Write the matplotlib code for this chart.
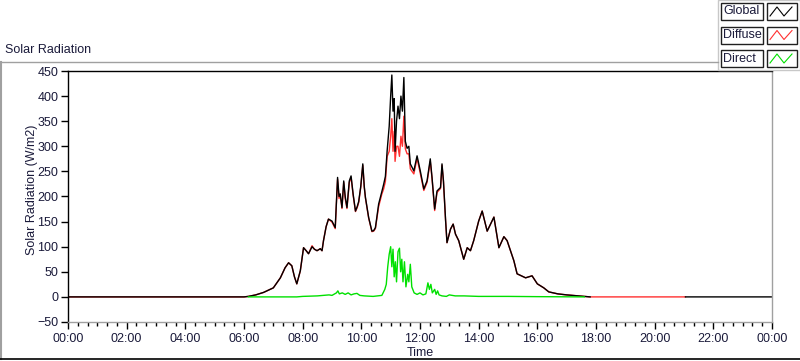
import matplotlib.pyplot as plt
from matplotlib.lines import Line2D
from matplotlib.patches import Rectangle
import numpy as np

# time of day in hours, values in W/m2
t_global = [0, 6.0, 6.15, 6.4, 6.67, 7.0, 7.24, 7.4, 7.52, 7.63, 7.72, 7.8, 7.92, 8.03, 8.12, 8.2,
            8.32, 8.4, 8.49, 8.6, 8.66, 8.71, 8.8, 8.88, 9.0, 9.11, 9.19, 9.24, 9.28, 9.34, 9.4, 9.45,
            9.51, 9.59, 9.65, 9.72, 9.8, 9.86, 9.91, 9.98, 10.05, 10.1, 10.14, 10.25, 10.36, 10.42,
            10.48, 10.59, 10.7, 10.76, 10.82, 10.88, 10.95, 11.0, 11.04, 11.08, 11.12, 11.15, 11.2,
            11.25, 11.3, 11.35, 11.4, 11.45, 11.5, 11.56, 11.62, 11.67, 11.79, 11.9, 12.01, 12.13,
            12.24, 12.35, 12.41, 12.5, 12.58, 12.7, 12.75, 12.8, 12.87, 12.92, 13.04, 13.13, 13.21,
            13.32, 13.49, 13.61, 13.72, 13.83, 14.0, 14.12, 14.29, 14.52, 14.69, 14.86, 14.97, 15.2,
            15.31, 15.6, 15.82, 16.0, 16.22, 16.39, 16.7, 17.0, 17.4, 17.8, 17.85, 21.05, 24]
global_wm2 = [0, 0, 1, 4, 9, 18, 38, 58, 68, 62, 40, 26, 52, 98, 92, 86,
              100, 95, 92, 96, 92, 112, 140, 155, 151, 138, 238, 200, 205, 178, 231, 200,
              178, 231, 241, 205, 171, 180, 190, 220, 265, 220, 198, 158, 131, 132,
              138, 185, 210, 224, 240, 291, 340, 400, 442, 370, 395, 290, 350,
              380, 355, 400, 370, 437, 310, 296, 300, 265, 251, 281, 251, 215,
              231, 275, 238, 175, 211, 218, 265, 231, 155, 108, 135, 145, 125,
              112, 75, 98, 92, 112, 151, 171, 131, 159, 98, 120, 112, 72,
              46, 38, 42, 26, 18, 10, 6, 4, 2, 0, np.nan, 0, 0]

t_diffuse = t_global[:-3] + [21.05]
diffuse_wm2 = [0, 0, 1, 4, 9, 18, 38, 58, 68, 62, 40, 26, 52, 98, 92, 86,
               102, 95, 92, 96, 92, 112, 140, 155, 149, 136, 234, 196, 205, 176, 228, 196,
               176, 228, 238, 203, 170, 178, 188, 218, 262, 218, 197, 157, 130, 131,
               136, 180, 205, 215, 230, 280, 290, 320, 355, 290, 330, 270, 300,
               300, 280, 320, 300, 360, 295, 285, 285, 255, 245, 276, 246, 212,
               228, 270, 236, 172, 208, 216, 262, 229, 154, 108, 135, 145, 125,
               112, 75, 98, 92, 112, 151, 171, 131, 159, 98, 120, 112, 72,
               46, 38, 42, 26, 18, 10, 6, 4, 2, 0, 0]

t_direct = [6.15, 7.8, 8.0, 8.5, 8.9, 9.0, 9.15, 9.2, 9.25, 9.35, 9.45, 9.55, 9.65, 9.75, 9.85,
            9.95, 10.1, 10.4, 10.7, 10.8, 10.85, 10.9, 10.95, 11.0, 11.04, 11.08, 11.12, 11.16,
            11.2, 11.25, 11.3, 11.34, 11.38, 11.42, 11.47, 11.52, 11.58, 11.62, 11.67, 11.72,
            11.8, 11.9, 12.0, 12.1, 12.2, 12.27, 12.32, 12.37, 12.42, 12.5, 12.55, 12.6, 12.65,
            12.75, 12.9, 13.0, 13.2, 13.5, 14.0, 15.0, 16.0, 17.6]
direct_wm2 = [0, 0, 1, 2, 4, 3, 8, 12, 6, 8, 5, 8, 4, 6, 7,
              3, 2, 1, 3, 15, 25, 60, 85, 100, 60, 95, 40, 70,
              30, 90, 97, 50, 75, 30, 70, 20, 45, 30, 65, 20,
              8, 5, 8, 4, 6, 28, 15, 25, 8, 15, 5, 12, 4,
              2, 1, 4, 2, 2, 1, 1, 0.5, 0]

x_ticks = list(range(0, 25, 2))
x_labels = ["%02d:00" % (h % 24) for h in x_ticks]
y_ticks = list(range(-50, 451, 50))

txt = '#1a1a3a'
plt.rcParams['font.family'] = ['Liberation Sans', 'DejaVu Sans']
plt.rcParams['font.size'] = 9

fig = plt.figure(figsize=(8, 3.61), dpi=100)
ax = fig.add_axes([68/800, 1-322/361, (772-68)/800, (322-71)/361])

ax.plot(t_diffuse, diffuse_wm2, color='#ff3030', lw=1.0)
ax.plot(t_global, global_wm2, color='black', lw=1.0)
ax.plot(t_direct, direct_wm2, color='#00e000', lw=1.0)

ax.set_xlim(0, 24)
ax.set_ylim(-50, 450)
ax.set_xticks(x_ticks)
ax.set_xticklabels(x_labels)
ax.set_xticks(np.arange(0, 24.01, 1/3), minor=True)
ax.set_yticks(y_ticks)
ax.tick_params(axis='x', which='major', length=5, width=1, colors='black', labelcolor=txt, pad=3)
ax.tick_params(axis='x', which='minor', length=3, width=1, colors='black')
ax.tick_params(axis='y', length=5, width=1, colors='black', labelcolor=txt, pad=2)
ax.spines['left'].set_color('black')
ax.spines['top'].set_color('black')
ax.spines['right'].set_color('#a0a0a0')
ax.spines['bottom'].set_color('#a0a0a0')
for s in ax.spines.values():
    s.set_linewidth(1.0)

fig.text(32/800, 1-190/361, 'Solar Radiation (W/m2)', rotation=90, ha='center', va='center', color=txt)
fig.text(420/800, 1-353/361, 'Time', ha='center', va='center', color=txt)
fig.text(5/800, 1-50/361, 'Solar Radiation', ha='left', va='center', color=txt)

# outer frame of the chart
fig.add_artist(Line2D([0, 718/800], [1-62/361, 1-62/361], color='#a0a0a0', lw=1))
fig.add_artist(Line2D([0.8/800, 0.8/800], [1-62/361, 1-359/361], color='#a0a0a0', lw=1.5))
fig.add_artist(Line2D([0, 1], [1-359/361, 1-359/361], color='black', lw=1.2))

# legend, drawn like the LabVIEW plot legend
fig.add_artist(Rectangle((718/800, 1-70/361), 82/800, 70/361, transform=fig.transFigure,
                         facecolor='white', edgecolor='#c8c8c8', lw=1))
names = ['Global', 'Diffuse', 'Direct']
colors = ['black', '#ff3030', '#00e000']
for i, (name, c) in enumerate(zip(names, colors)):
    top = 3 + i*23.5
    bot = top + 17
    fig.add_artist(Rectangle((721/800, 1-bot/361), 42/800, 17/361, transform=fig.transFigure,
                             facecolor='white', edgecolor='#202020', lw=1))
    fig.text(723/800, 1-(top+bot)/2/361, name, ha='left', va='center', color=txt)
    fig.add_artist(Rectangle((767/800, 1-bot/361), 30/800, 17/361, transform=fig.transFigure,
                             facecolor='white', edgecolor='#202020', lw=1))
    zx = [770, 777, 784, 792]
    zy = [bot-4, top+4, bot-4, top+4]
    fig.add_artist(Line2D([v/800 for v in zx], [1-v/361 for v in zy], color=c, lw=0.8))

plt.savefig('out.png', dpi=100)
